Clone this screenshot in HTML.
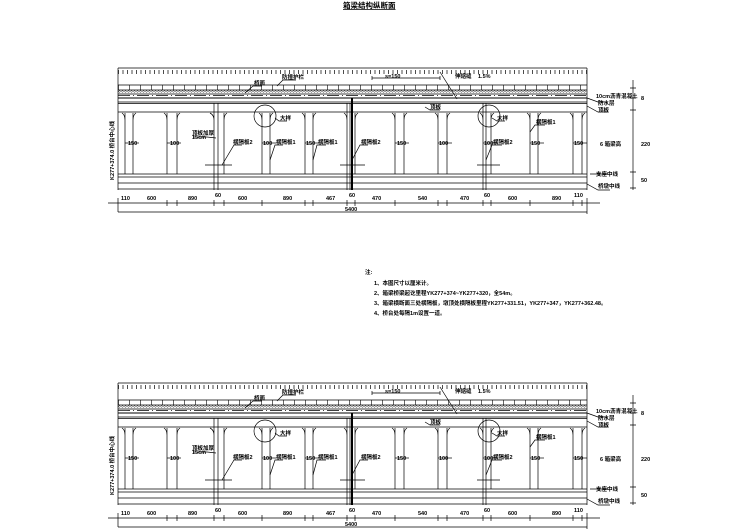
<!DOCTYPE html>
<html><head><meta charset="utf-8"><style>
html,body{margin:0;padding:0;background:#fff;}
svg{display:block;}
text{font-family:"Liberation Sans","Noto Sans CJK SC",sans-serif;fill:#000;}
</style></head><body>
<svg width="749" height="530" viewBox="0 0 749 530" xmlns="http://www.w3.org/2000/svg">
<defs>
<pattern id="tick" x="118" y="0" width="4.5" height="10" patternUnits="userSpaceOnUse">
<line x1="0.5" y1="0" x2="0.5" y2="5" stroke="#000" stroke-width="0.7"/>
</pattern>
<pattern id="cell" x="118" y="0" width="11" height="10" patternUnits="userSpaceOnUse">
<line x1="0.5" y1="0" x2="0.5" y2="10" stroke="#000" stroke-width="0.6"/>
</pattern>
<pattern id="dots" x="118" y="0" width="3" height="3" patternUnits="userSpaceOnUse">
<circle cx="1.5" cy="1.5" r="0.8" fill="none" stroke="#000" stroke-width="0.4"/>
</pattern>
<g id="elev" stroke="#000" fill="none" stroke-width="0.7">
<rect x="118" y="68" width="469" height="6" fill="url(#tick)" stroke="none"/>
<line x1="118" y1="68" x2="587" y2="68"/>
<line x1="118" y1="68" x2="118" y2="190"/>
<line x1="587" y1="68" x2="587" y2="190"/>
<rect x="118" y="85" width="469" height="5" fill="url(#cell)" stroke="none"/>
<line x1="118" y1="85" x2="587" y2="85"/>
<line x1="118" y1="90" x2="587" y2="90"/>
<rect x="118" y="90.5" width="469" height="3" fill="url(#dots)" stroke="none"/>
<line x1="118" y1="94" x2="587" y2="94"/>
<line x1="118" y1="95.5" x2="587" y2="95.5" stroke-dasharray="12 3 1 3"/>
<line x1="118" y1="98" x2="587" y2="98" stroke-width="1"/>
<line x1="118" y1="102" x2="587" y2="102"/>
<line x1="118" y1="103.5" x2="587" y2="103.5"/>
<line x1="118" y1="112" x2="587" y2="112"/>
<line x1="118" y1="174" x2="587" y2="174"/>
<line x1="118" y1="177" x2="587" y2="177"/>
<line x1="118" y1="183" x2="587" y2="183"/>
<line x1="118" y1="189" x2="587" y2="189"/>
<!-- pilasters -->
<path d="M125 113 V174 M133 113 V174 M122 113 Q125 115 125 120 M136 113 Q133 115 133 120"/>
<path d="M167 113 V174 M177 113 V174 M164 113 Q167 115 167 120 M180 113 Q177 115 177 120"/>
<path d="M214 103 V190 M218 103 V190 M224 113 V174 M210 113 Q214 115 214 120 M227 113 Q224 115 224 120"/>
<path d="M262 113 V174 M270 113 V174 M259 113 Q262 115 262 120 M273 113 Q270 115 270 120"/>
<path d="M305 113 V174 M313 113 V174 M302 113 Q305 115 305 120 M316 113 Q313 115 313 120"/>
<path d="M347 103 V190 M350 103 V190 M355 113 V174 M344 113 Q347 115 347 120 M358 113 Q355 115 355 120"/>
<line x1="352" y1="98" x2="352" y2="190" stroke-width="2"/>
<path d="M395 113 V174 M404 113 V174 M392 113 Q395 115 395 120 M407 113 Q404 115 404 120"/>
<path d="M438 113 V174 M447 113 V174 M435 113 Q438 115 438 120 M450 113 Q447 115 447 120"/>
<path d="M483 103 V190 M486 103 V190 M491 113 V174 M480 113 Q483 115 483 120 M494 113 Q491 115 491 120"/>
<path d="M530 113 V174 M538 113 V174 M527 113 Q530 115 530 120 M541 113 Q538 115 538 120"/>
<path d="M573 113 V174 M582 113 V174 M570 113 Q573 115 573 120 M585 113 Q582 115 582 120"/>
<!-- section marks -->
<line x1="125" y1="143" x2="139" y2="143"/><line x1="167" y1="143" x2="181" y2="143"/>
<line x1="262" y1="143" x2="276" y2="143"/><line x1="305" y1="143" x2="319" y2="143"/>
<line x1="395" y1="143" x2="409" y2="143"/><line x1="438" y1="143" x2="452" y2="143"/>
<line x1="483" y1="143" x2="497" y2="143"/><line x1="530" y1="143" x2="544" y2="143"/>
<line x1="573" y1="143" x2="587" y2="143"/>
<circle cx="265" cy="116" r="11"/><circle cx="489" cy="116" r="11"/>
<!-- leaders -->
<path d="M245 93 L253 86 H262 M277 86 L283 80 H296 M275 118 L279 121 H287 M457 99 L440 72 M216 138 L207 137 H193 M222 165 L234 145 H242 M270 160 L275 145 H283 M313 160 L317 145 H326 M352 160 L360 145 H368 M486 160 L492 145 H502 M530 132 L535 125 H545 M492 118 L497 121 H505 M425 107 L430 110 H440"/>
<path d="M205 165 H232 M340 165 H365 M477 165 H500"/>
<path d="M372 78 H440 M372 76 V80 M440 76 V80"/>
<!-- right side -->
<path d="M587 98 L598 102 H608 M587 106 L598 112 H608 M587 184 L598 190 H610 M590 174 H608"/>
<line x1="633" y1="80" x2="633" y2="190"/>
<path d="M630 88 H636 M630 98 H636 M630 110 H636 M630 172 H636 M630 188 H636"/>
<!-- dimensions -->
<line x1="108" y1="203" x2="600" y2="203"/>
<path d="M118 198 V212 M167 200 V206 M177 200 V206 M214 200 V206 M224 200 V206 M262 200 V206 M305 200 V206 M313 200 V206 M347 200 V206 M355 200 V206 M395 200 V206 M438 200 V206 M447 200 V206 M483 200 V206 M491 200 V206 M530 200 V206 M573 200 V206 M582 200 V206 M587 198 V214"/>
<line x1="118" y1="212" x2="587" y2="212"/>
</g>
<g id="etext" font-size="5.5" font-weight="bold">
<text x="121" y="200">110</text><text x="147" y="200">600</text><text x="188" y="200">890</text>
<text x="215" y="197">60</text><text x="238" y="200">600</text><text x="283" y="200">890</text>
<text x="326" y="200">467</text><text x="349" y="197">60</text><text x="372" y="200">470</text>
<text x="418" y="200">540</text><text x="460" y="200">470</text><text x="484" y="197">60</text>
<text x="508" y="200">600</text><text x="552" y="200">890</text><text x="574" y="197">110</text>
<text x="345" y="211">5400</text>
<text x="128" y="145">150</text><text x="170" y="145">100</text><text x="263" y="145">100</text>
<text x="306" y="145">150</text><text x="397" y="145">150</text><text x="439" y="145">100</text>
<text x="484" y="145">100</text><text x="531" y="145">150</text><text x="574" y="145">150</text>
<text x="254" y="85">桥面</text><text x="282" y="79">防撞护栏</text><text x="280" y="120">大样</text>
<text x="192" y="135">顶板加厚</text><text x="192" y="139">15cm</text>
<text x="233" y="144">横隔板2</text><text x="276" y="144">横隔板1</text><text x="318" y="144">横隔板1</text>
<text x="361" y="144">横隔板2</text><text x="493" y="144">横隔板2</text><text x="536" y="124">横隔板1</text>
<text x="430" y="109">顶板</text><text x="497" y="120">大样</text>
<text x="385" y="78">s=150</text><text x="455" y="78">伸缩缝</text><text x="478" y="78">1.5%</text>
<text x="596" y="98">10cm沥青混凝土</text><text x="598" y="105">防水层</text><text x="598" y="112">顶板</text>
<text x="600" y="146">6 箱梁高</text><text x="596" y="176">支座中线</text><text x="598" y="188">桥墩中线</text>
<text x="641" y="100">8</text><text x="641" y="146">220</text><text x="641" y="182">50</text>
<text transform="translate(114,180) rotate(-90)">K277+374.0 桥台中心线</text>
</g>
</defs>
<text x="343" y="8" font-size="7.5" font-weight="bold" style="text-decoration:underline">箱梁结构纵断面</text>
<use href="#elev"/><use href="#etext"/>
<g transform="translate(0,315)"><use href="#elev"/><use href="#etext"/></g>
<g font-size="5.5" font-weight="bold">
<text x="365" y="274">注:</text>
<text x="374" y="285">1、本图尺寸以厘米计。</text>
<text x="374" y="295">2、箱梁桥梁起讫里程YK277+374~YK277+320，全54m。</text>
<text x="374" y="305">3、箱梁横断面三处横隔板，墩顶处横隔板里程YK277+331.51，YK277+347，YK277+362.48。</text>
<text x="374" y="315">4、桥台处每隔1m设置一道。</text>
</g>
</svg>
</body></html>
